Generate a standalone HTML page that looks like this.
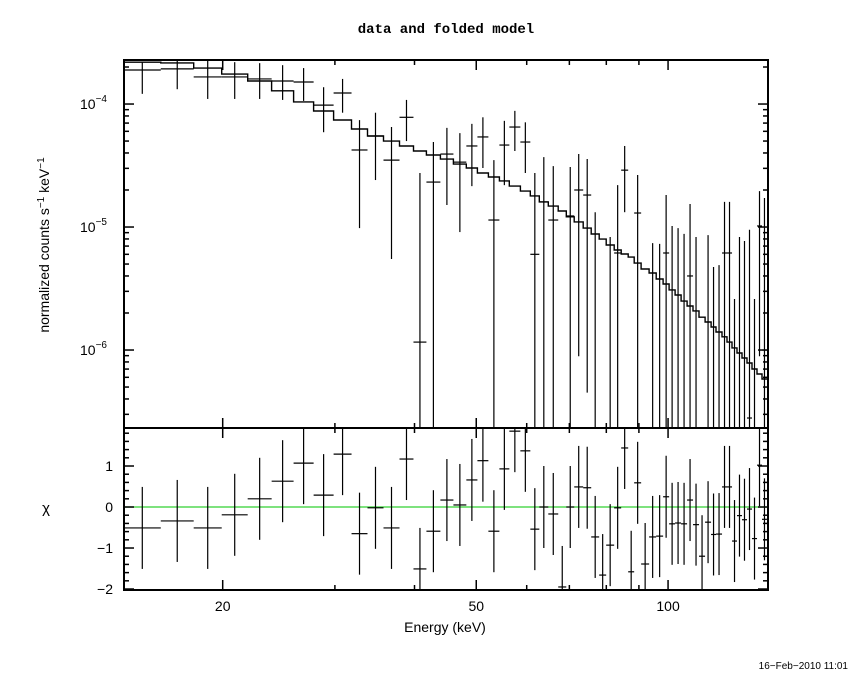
<!DOCTYPE html>
<html><head><meta charset="utf-8">
<style>
html,body{margin:0;padding:0;background:#fff;}
svg{display:block;font-family:"Liberation Sans",sans-serif;}
</style></head>
<body>
<svg id="chart" width="850" height="680" viewBox="0 0 850 680" xmlns="http://www.w3.org/2000/svg">
<rect width="850" height="680" fill="#fff"/>
<text x="446" y="33" font-size="14" text-anchor="middle" font-family="Liberation Mono, monospace" font-weight="bold">data and folded model</text>
<text transform="translate(49,245) rotate(-90)" font-size="14" text-anchor="middle">normalized counts s<tspan baseline-shift="super" font-size="10">−1</tspan> keV<tspan baseline-shift="super" font-size="10">−1</tspan></text>
<text x="46" y="513" font-size="15" text-anchor="middle">χ</text>
<text x="445" y="632" font-size="14" text-anchor="middle">Energy (keV)</text>
<text x="848" y="669" font-size="10" text-anchor="end">16−Feb−2010 11:01</text>
<g id="topPanel"></g>
<g id="botPanel"></g>
</svg>
<script>
const binEdges = [13.99,15.99,18.01,19.93,21.89,23.87,25.84,27.78,29.86,31.86,33.75,35.76,37.89,39.85,41.76,43.92,46.04,48.24,50.21,52.24,54.36,56.35,58.64,60.79,62.80,64.87,67.24,69.22,71.24,73.59,75.75,77.96,79.96,82.30,84.41,86.58,88.47,90.73,93.39,95.79,98.23,100.39,102.57,104.81,107.11,109.45,111.84,114.31,116.81,118.93,121.54,123.74,126.01,128.29,130.62,133.02,135.43,137.92,140.42,142.96];
const modelValues = [2.19e-4,2.16e-4,1.96e-4,1.75e-4,1.54e-4,1.28e-4,1.04e-4,8.77e-5,7.41e-5,6.27e-5,5.50e-5,5.00e-5,4.56e-5,4.15e-5,3.85e-5,3.57e-5,3.25e-5,3.02e-5,2.75e-5,2.55e-5,2.37e-5,2.15e-5,1.96e-5,1.79e-5,1.60e-5,1.48e-5,1.35e-5,1.21e-5,1.10e-5,9.8e-6,8.77e-6,7.98e-6,7.14e-6,6.50e-6,6.03e-6,5.70e-6,5.09e-6,4.56e-6,4.23e-6,3.78e-6,3.44e-6,3.08e-6,2.80e-6,2.50e-6,2.28e-6,2.08e-6,1.85e-6,1.69e-6,1.54e-6,1.40e-6,1.28e-6,1.16e-6,1.04e-6,9.46e-7,8.61e-7,7.84e-7,7.01e-7,6.38e-7,5.81e-7];
const dataValues = [1.89e-4,1.93e-4,1.66e-4,1.66e-4,1.60e-4,1.54e-4,1.51e-4,9.8e-5,1.23e-4,4.23e-5,5.5e-5,3.5e-5,7.8e-5,1.16e-6,2.32e-5,3.92e-5,3.37e-5,4.56e-5,5.4e-5,1.14e-5,4.64e-5,6.5e-5,4.91e-5,6.0e-6,1.6e-5,1.14e-5,0,1.23e-5,2.0e-5,1.82e-5,0,0,0,6.15e-6,2.9e-5,0,1.3e-5,0,0,0,6.15e-6,0,0,0,4.0e-6,0,0,0,0,0,6.15e-6,6.15e-6,0,0,0,2.8e-7,0,1.02e-5,1.0e-6];
const dataUpper = [2.19e-4,2.28e-4,2.28e-4,2.19e-4,2.15e-4,2.07e-4,1.96e-4,1.37e-4,1.6e-4,7.4e-5,8.5e-5,6.5e-5,1.08e-4,2.75e-5,4.91e-5,6.4e-5,5.8e-5,6.9e-5,7.8e-5,3.5e-5,7.3e-5,8.8e-5,7.1e-5,2.75e-5,3.7e-5,3.13e-5,0,3.08e-5,3.92e-5,3.57e-5,1.32e-5,0,8.3e-6,2.19e-5,4.56e-5,0,2.65e-5,0,7.4e-6,7.3e-6,1.82e-5,1.02e-5,9.8e-6,8.8e-6,1.54e-5,8.3e-6,0,8.6e-6,4.73e-6,4.9e-6,1.6e-5,1.6e-5,2.6e-6,8.3e-6,7.7e-6,9.5e-6,2.6e-6,1.96e-5,1.72e-5];
const dataLower = [1.21e-4,1.32e-4,1.10e-4,1.10e-4,1.10e-4,1.08e-4,1.06e-4,5.9e-5,8.5e-5,9.8e-6,2.41e-5,5.5e-6,5.0e-5,0,0,1.51e-5,9.1e-6,2.15e-5,3.02e-5,0,2.19e-5,4.15e-5,2.75e-5,0,0,0,0,0,8.9e-7,4.5e-7,0,0,0,0,1.32e-5,0,0,0,0,0,0,0,0,0,0,0,0,0,0,0,0,0,0,0,0,0,0,8.9e-7,0];
const residuals = [-0.51,-0.34,-0.51,-0.19,0.20,0.63,1.07,0.29,1.29,-0.65,-0.02,-0.51,1.17,-1.51,-0.59,0.17,0.05,0.66,1.13,-0.59,0.93,1.85,1.37,-0.54,0.0,-0.17,-1.95,0.0,0.49,0.47,-0.73,-1.66,-0.93,-0.02,1.44,-1.58,0.59,-1.39,-0.73,-0.71,0.25,-0.41,-0.39,-0.41,0.17,-0.43,-1.20,-0.37,-0.67,-0.66,0.49,0.49,-0.83,-0.21,-0.31,-0.05,-0.77,1.02,-0.30];
const xMajorTicks = [20,50,100];
const xMinorTicks = [30,40,60,70,80,90];
const yMajorTicks = [-4,-5,-6];
const chiTicks = [-2,-1,0,1];

const NS='http://www.w3.org/2000/svg';
const L=124,R=768,T=60,M=428,B=590;
const XMIN=14.0,XMAX=143.5,YLMAX=-3.642,YLMIN=-6.634,CMAX=1.927,CMIN=-2.024;
function xs(e){return L+(Math.log10(e)-Math.log10(XMIN))/(Math.log10(XMAX)-Math.log10(XMIN))*(R-L);}
function ys(v){const l=Math.log10(v);return T+(YLMAX-l)/(YLMAX-YLMIN)*(M-T);}
function yc(c){return M+(CMAX-c)/(CMAX-CMIN)*(B-M);}
function clampT(y){return Math.max(T,Math.min(M,y));}
function clampB(y){return Math.max(M,Math.min(B,y));}
function mk(tag,attrs,parent){const e=document.createElementNS(NS,tag);for(const k in attrs)e.setAttribute(k,attrs[k]);parent.appendChild(e);return e;}
const topG=document.getElementById('topPanel'),botG=document.getElementById('botPanel');

const z=mk('line',{x1:L,x2:R,y1:yc(0),y2:yc(0),stroke:'#30d030','stroke-width':1.2},botG);



let d='';
for(let i=0;i<modelValues.length;i++){
  const x0=xs(binEdges[i]),x1=xs(binEdges[i+1]),y=ys(modelValues[i]);
  d+=(i===0?'M':'L')+Math.max(L,x0).toFixed(1)+','+y.toFixed(1)+'L'+Math.min(R,x1).toFixed(1)+','+y.toFixed(1);
}
const mp=mk('path',{d:d,fill:'none',stroke:'#000','stroke-width':1.4},topG);



for(let i=0;i<dataValues.length;i++){
  const x0=Math.max(L,xs(binEdges[i])),x1=Math.min(R,xs(binEdges[i+1]));
  const xc=xs(Math.sqrt(binEdges[i]*binEdges[i+1]));
  const g=mk('g',{},topG);
  
  
  if(dataUpper[i]>0){
    const yt=clampT(ys(dataUpper[i]));
    const yb=dataLower[i]>0?clampT(ys(dataLower[i])):M;
    if(yt<M) mk('line',{x1:xc,x2:xc,y1:yt,y2:yb,stroke:'#000','stroke-width':1.2},g);
  }
  if(dataValues[i]>0){
    const y=ys(dataValues[i]);
    if(y>T&&y<M) mk('line',{x1:x0,x2:x1,y1:y,y2:y,stroke:'#000','stroke-width':1.2},g);
  }
  const g2=mk('g',{},botG);
  
  
  const r=residuals[i];
  mk('line',{x1:xc,x2:xc,y1:clampB(yc(r+1)),y2:clampB(yc(r-1)),stroke:'#000','stroke-width':1.2},g2);
  const yr=yc(r);
  if(yr>M&&yr<B) mk('line',{x1:x0,x2:x1,y1:yr,y2:yr,stroke:'#000','stroke-width':1.2},g2);
}

const f1=mk('rect',{x:L,y:T,width:R-L,height:M-T,fill:'none',stroke:'#000','stroke-width':2},topG);


const f2=mk('rect',{x:L,y:M,width:R-L,height:B-M,fill:'none',stroke:'#000','stroke-width':2},botG);



const axg=mk('g',{stroke:'#000','stroke-width':1.5},topG);


xMajorTicks.forEach(e=>{const x=xs(e);
  [[T,T+10],[M-10,M+10],[B-10,B]].forEach(p=>mk('line',{x1:x,x2:x,y1:p[0],y2:p[1]},axg));
  const t=mk('text',{x:x,y:B+21,'font-size':14,'text-anchor':'middle',stroke:'none'},axg);
  t.textContent=String(e);
  
  
});
xMinorTicks.forEach(e=>{const x=xs(e);
  [[T,T+5],[M-5,M+5],[B-5,B]].forEach(p=>mk('line',{x1:x,x2:x,y1:p[0],y2:p[1]},axg));
});
const ayg=mk('g',{stroke:'#000','stroke-width':1.5},topG);


for(let dec=-7;dec<=-3;dec++){
  for(let m=1;m<10;m++){
    const v=m*Math.pow(10,dec),y=ys(v);
    if(y<T||y>M) continue;
    const len=m===1?10:5;
    mk('line',{x1:L,x2:L+len,y1:y,y2:y},ayg);
    mk('line',{x1:R-len,x2:R,y1:y,y2:y},ayg);
  }
}
yMajorTicks.forEach(p=>{const y=ys(Math.pow(10,p));
  const t=mk('text',{x:80,y:y+5,'font-size':14,stroke:'none'},ayg);
  t.textContent='10';
  const ts=mk('tspan',{dy:-7,'font-size':10},t);
  ts.textContent='−'+Math.abs(p);
  
  
});
const acg=mk('g',{stroke:'#000','stroke-width':1.5},botG);


for(let k=-10;k<=9;k++){const c=k*0.2,y=yc(c);if(y<M||y>B)continue;
  const len=(k%5===0)?10:5;
  mk('line',{x1:L,x2:L+len,y1:y,y2:y},acg);mk('line',{x1:R-len,x2:R,y1:y,y2:y},acg);}
chiTicks.forEach(c=>{const t=mk('text',{x:113,y:yc(c)+5,'font-size':14,'text-anchor':'end',stroke:'none'},acg);
  t.textContent=c<0?'−'+Math.abs(c):String(c);
  
  
});
</script>
</body></html>
